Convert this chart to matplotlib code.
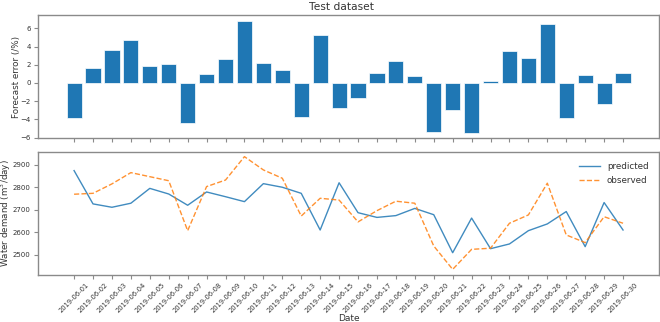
import matplotlib
matplotlib.use("Agg")
import matplotlib.pyplot as plt
import numpy as np

dates = ["2019-06-%02d" % d for d in range(1, 31)]
errors = [-3.81, 1.68, 3.62, 4.76, 1.83, 2.12, -4.43, 0.95, 2.67, 6.84,
          2.20, 1.39, -3.73, 5.23, -2.74, -1.61, 1.06, 2.38, 0.73, -5.34,
          -2.96, -5.45, 0.18, 3.48, 2.74, 6.48, -3.84, 0.88, -2.27, 1.13]
predicted = [2875, 2727, 2712, 2730, 2796, 2771, 2721, 2780, 2759, 2737,
             2817, 2801, 2774, 2611, 2821, 2688, 2667, 2675, 2707, 2679,
             2510, 2664, 2528, 2549, 2608, 2638, 2693, 2537, 2733, 2611]
observed = [2770, 2774, 2816, 2866, 2848, 2830, 2608, 2804, 2833, 2937,
            2878, 2841, 2673, 2752, 2744, 2647, 2697, 2739, 2730, 2540,
            2436, 2525, 2530, 2641, 2678, 2819, 2589, 2555, 2670, 2641]

W, H = 660, 322
fig = plt.figure(figsize=(W / 100, H / 100), dpi=100)

def box(l, t, r, b):
    return [l / W, 1 - b / H, (r - l) / W, (b - t) / H]

ax1 = fig.add_axes(box(38.3, 15, 659, 138.3))
ax2 = fig.add_axes(box(38.3, 151.7, 659, 275))

x = np.arange(len(dates))
spine_c = "#8a8a8a"
text_c = "#333333"

ax1.bar(x, errors, width=0.8, color="#1f77b4", edgecolor="white", linewidth=0.5)
ax1.set_ylim(-6.07, 7.46)
ax1.set_yticks([-6, -4, -2, 0, 2, 4, 6])
ax1.set_ylabel("Forecast error (/%)", fontsize=6.3, color=text_c)
ax1.yaxis.set_label_coords((20.5 - 38.3) / 620.7, 0.5)
ax1.set_xticks(x)
ax1.set_xticklabels([])

ax2.plot(x, predicted, color="#1f77b4", lw=1.0, label="predicted", alpha=0.85)
ax2.plot(x, observed, color="#ff7f0e", lw=1.0, ls="--", label="observed", alpha=0.85)
ax2.set_ylim(2411, 2959)
ax2.set_yticks([2500, 2600, 2700, 2800, 2900])
ax2.set_ylabel("Water demand (m$^3$/day)", fontsize=6.3, color=text_c)
ax2.yaxis.set_label_coords((13.5 - 38.3) / 620.7, 0.5)
ax2.set_xlabel("Date", fontsize=6.5, color=text_c, va="center")
ax2.xaxis.set_label_coords(0.5, -0.349)
ax2.set_xticks(x)
ax2.set_xticklabels(dates, rotation=45, fontsize=4.9, color=text_c)
leg = ax2.legend(loc="upper right", frameon=False, fontsize=6.3, labelcolor=text_c,
                 handlelength=2.4, borderaxespad=0.8)

for ax in (ax1, ax2):
    ax.set_xlim(-1.89, 30.9)
    for s in ax.spines.values():
        s.set_color(spine_c)
        s.set_linewidth(1.0)
    ax.tick_params(colors=spine_c, labelcolor=text_c, length=3, width=0.8)
    ax.tick_params(axis="y", labelsize=5, pad=2.5)
ax2.tick_params(axis="x", pad=2)

fig.text(341 / W, 1 - 7 / H, "Test dataset", ha="center", va="center",
         fontsize=7.7, color=text_c)

fig.savefig("out.png", dpi=100)
